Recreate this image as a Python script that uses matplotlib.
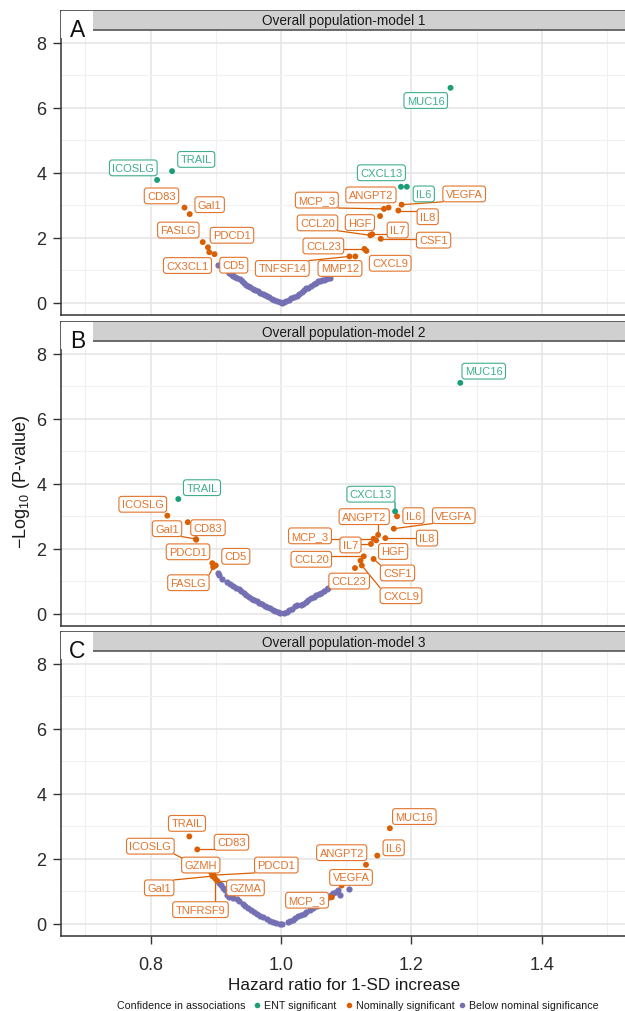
import numpy as np
import matplotlib
matplotlib.use('Agg')
import matplotlib.pyplot as plt
from matplotlib.patches import Rectangle
from matplotlib.lines import Line2D

plt.rcParams['font.family'] = ['Liberation Sans', 'DejaVu Sans']
plt.rcParams['mathtext.fontset'] = 'custom'
plt.rcParams['mathtext.rm'] = 'Liberation Sans'

GREEN = '#1b9e77'
ORANGE = '#d95f02'
PURPLE = '#7570b3'
COLORS = {'ENT': GREEN, 'Nom': ORANGE}
LIGHT = {'ENT': '#3fae8d', 'Nom': '#e2742c'}

# ---------------- model 1 ----------------
a_names = ['MUC16', 'CXCL13', 'IL6', 'TRAIL', 'ICOSLG', 'VEGFA', 'IL8', 'ANGPT2', 'MCP_3',
           'HGF', 'CCL20', 'IL7', 'CSF1', 'CCL23', 'CXCL9', 'TNFSF14', 'MMP12',
           'CD83', 'Gal1', 'FASLG', 'PDCD1', 'CX3CL1', 'CD5']
a_hr = [1.260, 1.184, 1.193, 0.833, 0.810, 1.185, 1.180, 1.165, 1.158,
        1.152, 1.137, 1.140, 1.153, 1.128, 1.131, 1.105, 1.114,
        0.852, 0.860, 0.880, 0.888, 0.890, 0.898]
a_logp = [6.61, 3.57, 3.57, 4.05, 3.78, 3.02, 2.84, 2.93, 2.89,
          2.67, 2.08, 2.11, 1.97, 1.66, 1.60, 1.43, 1.43,
          2.93, 2.73, 1.87, 1.71, 1.56, 1.50]
a_group = ['ENT'] * 5 + ['Nom'] * 18
a_bg_hr = [0.904, 0.921, 0.923, 0.925, 0.927, 0.930, 0.933, 0.937, 0.940, 0.943, 0.947, 0.950,
           0.953, 0.957, 0.960, 0.964, 0.968, 0.972, 0.975, 0.978, 0.982, 0.986, 0.990, 0.994,
           0.998, 1.001, 1.004, 1.008, 1.012, 1.016, 1.020, 1.024, 1.028, 1.032, 1.036, 1.039,
           1.042, 1.046, 1.050, 1.054, 1.057, 1.060, 1.063, 1.066, 1.069, 1.072, 1.075]
a_bg_logp = [1.17, 0.91, 0.88, 0.86, 0.84, 0.80, 0.77, 0.73, 0.68, 0.62, 0.55, 0.51,
             0.48, 0.44, 0.40, 0.36, 0.31, 0.28, 0.25, 0.22, 0.17, 0.12, 0.08, 0.05,
             0.02, 0.01, 0.03, 0.06, 0.10, 0.14, 0.18, 0.22, 0.27, 0.33, 0.40, 0.45,
             0.47, 0.53, 0.58, 0.62, 0.66, 0.68, 0.70, 0.72, 0.74, 0.76, 0.78]

# ---------------- model 2 ----------------
b_names = ['MUC16', 'CXCL13', 'TRAIL', 'IL6', 'VEGFA', 'ANGPT2', 'IL8', 'MCP_3', 'HGF', 'IL7',
           'CCL20', '', 'CSF1', 'CXCL9', 'CCL23', 'ICOSLG', 'CD83', 'Gal1', 'PDCD1',
           'CD5', 'FASLG', '']
b_hr = [1.275, 1.175, 0.8425, 1.178, 1.173, 1.149, 1.160, 1.142, 1.146, 1.138,
        1.127, 1.122, 1.142, 1.124, 1.1135, 0.8257, 0.857, 0.8696, 0.870,
        0.900, 0.896, 0.8947]
b_logp = [7.10, 3.15, 3.53, 3.00, 2.62, 2.43, 2.33, 2.31, 2.26, 2.15,
          1.77, 1.64, 1.69, 1.49, 1.41, 3.02, 2.82, 2.30, 2.28,
          1.49, 1.44, 1.56]
b_group = ['ENT'] * 3 + ['Nom'] * 19
b_bg_hr = [0.903, 0.905, 0.909, 0.917, 0.922, 0.927, 0.931, 0.935, 0.939, 0.943, 0.947, 0.951,
           0.955, 0.959, 0.963, 0.967, 0.971, 0.975, 0.979, 0.983, 0.987, 0.991, 0.995, 0.999,
           1.005, 1.009, 1.013, 1.017, 1.021, 1.025, 1.030, 1.034, 1.038, 1.042, 1.046, 1.050,
           1.054, 1.058, 1.062, 1.066, 1.070, 1.072]
b_bg_logp = [1.26, 1.20, 1.08, 0.98, 0.92, 0.87, 0.81, 0.76, 0.70, 0.63, 0.58, 0.53,
             0.47, 0.44, 0.41, 0.34, 0.30, 0.25, 0.20, 0.17, 0.13, 0.09, 0.05, 0.02,
             0.04, 0.07, 0.11, 0.16, 0.23, 0.26, 0.29, 0.32, 0.37, 0.44, 0.50, 0.53,
             0.57, 0.61, 0.65, 0.70, 0.77, 0.80]

# ---------------- model 3 ----------------
c_names = ['TRAIL', 'CD83', 'ICOSLG', 'GZMH', 'PDCD1', 'Gal1', 'TNFRSF9', 'GZMA',
           'MUC16', 'IL6', 'ANGPT2', 'VEGFA', 'MCP_3']
c_hr = [0.8594, 0.8716, 0.893, 0.896, 0.8965, 0.8947, 0.8988, 0.902,
        1.167, 1.1477, 1.1304, 1.093, 1.078]
c_logp = [2.69, 2.29, 1.58, 1.54, 1.50, 1.47, 1.40, 1.33,
          2.94, 2.10, 1.82, 1.18, 0.82]
c_group = ['Nom'] * 13
c_bg_hr = [0.905, 0.908, 0.911, 0.914, 0.917, 0.921, 0.926, 0.932, 0.936, 0.941, 0.945, 0.950,
           0.954, 0.958, 0.963, 0.968, 0.973, 0.978, 0.983, 0.988, 0.993, 0.998, 1.001,
           1.010, 1.014, 1.018, 1.022, 1.026, 1.031, 1.035, 1.039, 1.044, 1.049, 1.055,
           1.060, 1.064, 1.068, 1.073, 1.077, 1.080, 1.084, 1.088, 1.091, 1.105]
c_bg_logp = [1.25, 1.20, 1.12, 1.05, 0.88, 0.84, 0.81, 0.77, 0.70, 0.62, 0.56, 0.49,
             0.43, 0.36, 0.30, 0.25, 0.21, 0.16, 0.10, 0.06, 0.03, 0.01, 0.00,
             0.07, 0.10, 0.13, 0.19, 0.24, 0.28, 0.32, 0.36, 0.42, 0.48, 0.56,
             0.62, 0.68, 0.72, 0.82, 0.88, 0.95, 0.98, 1.03, 0.89, 1.08]

# label box centres (layout)
a_lab = {'MUC16': (1.222, 6.22), 'CXCL13': (1.154, 4.00), 'IL6': (1.219, 3.35),
         'VEGFA': (1.281, 3.35), 'TRAIL': (0.870, 4.41), 'ICOSLG': (0.7735, 4.15),
         'IL8': (1.225, 2.65), 'ANGPT2': (1.138, 3.32), 'MCP_3': (1.055, 3.16),
         'HGF': (1.121, 2.47), 'CCL20': (1.056, 2.46), 'IL7': (1.179, 2.24),
         'CSF1': (1.234, 1.93), 'CCL23': (1.065, 1.75), 'CXCL9': (1.1675, 1.22),
         'TNFSF14': (1.002, 1.06), 'MMP12': (1.0905, 1.06), 'CD83': (0.8167, 3.29),
         'Gal1': (0.8906, 3.02), 'FASLG': (0.8425, 2.24), 'PDCD1': (0.9248, 2.08),
         'CX3CL1': (0.8566, 1.15), 'CD5': (0.9276, 1.16)}
b_lab = {'MUC16': (1.311, 7.46), 'CXCL13': (1.138, 3.68), 'TRAIL': (0.8788, 3.88),
         'IL6': (1.2032, 3.02), 'VEGFA': (1.265, 3.02), 'ANGPT2': (1.1276, 2.99),
         'IL8': (1.224, 2.33), 'MCP_3': (1.0445, 2.40), 'HGF': (1.172, 1.92),
         'IL7': (1.1066, 2.12), 'CCL20': (1.0465, 1.68), 'CSF1': (1.1787, 1.26),
         'CXCL9': (1.184, 0.56), 'CCL23': (1.1046, 1.01), 'ICOSLG': (0.788, 3.37),
         'CD83': (0.888, 2.65), 'Gal1': (0.8252, 2.62), 'PDCD1': (0.8574, 1.91),
         'CD5': (0.9307, 1.77), 'FASLG': (0.858, 0.96)}
c_lab = {'TRAIL': (0.8558, 3.09), 'CD83': (0.924, 2.51), 'ICOSLG': (0.7996, 2.39),
         'GZMH': (0.877, 1.81), 'PDCD1': (0.9928, 1.81), 'Gal1': (0.8132, 1.11),
         'TNFRSF9': (0.8765, 0.44), 'GZMA': (0.9455, 1.11), 'MUC16': (1.2045, 3.30),
         'IL6': (1.1728, 2.34), 'ANGPT2': (1.0931, 2.19), 'VEGFA': (1.1074, 1.43),
         'MCP_3': (1.040, 0.73)}

fig = plt.figure(figsize=(6.25, 10.12), dpi=100)
L, W, H = 61 / 625, 566 / 625, 304 / 1012
bottoms = [1 - 316 / 1012, 1 - 627 / 1012, 1 - 937 / 1012]

panels = [
    ('A', 'Overall population-model 1', a_names, a_hr, a_logp, a_group, a_bg_hr, a_bg_logp, a_lab),
    ('B', 'Overall population-model 2', b_names, b_hr, b_logp, b_group, b_bg_hr, b_bg_logp, b_lab),
    ('C', 'Overall population-model 3', c_names, c_hr, c_logp, c_group, c_bg_hr, c_bg_logp, c_lab),
]

all_labels = []
for i, (letter, title, names, hr, logp, group, bgx, bgy, lab) in enumerate(panels):
    ax = fig.add_axes([L, bottoms[i], W, H])
    ax.set_xlim(0.6626, 1.5307)
    ax.set_ylim(-0.37, 8.97)
    ax.set_xticks([0.8, 1.0, 1.2, 1.4])
    ax.set_xticks([0.7, 0.9, 1.1, 1.3, 1.5], minor=True)
    ax.set_yticks([0, 2, 4, 6, 8])
    ax.set_yticks([1, 3, 5, 7], minor=True)
    ax.grid(which='major', color='#e4e4e4', lw=1.1, zorder=0)
    ax.grid(which='minor', color='#f0f0f0', lw=0.8, zorder=0)
    ax.set_axisbelow(True)
    for s in ax.spines.values():
        s.set_color('#333333')
        s.set_linewidth(1.1)
    ax.tick_params(which='minor', length=0)
    ax.tick_params(axis='y', which='major', length=5.5, width=1, color='#333333',
                   pad=5, labelsize=13, labelcolor='#2b2b2b')
    if i < 2:
        ax.tick_params(axis='x', which='both', length=0, labelbottom=False)
    else:
        ax.tick_params(axis='x', which='major', length=5.5, width=1, color='#333333',
                       pad=9, labelsize=13, labelcolor='#2b2b2b')

    # strip
    sb = (316 - 31) / 304
    ax.add_patch(Rectangle((0, sb), 1, 1 - sb, transform=ax.transAxes, facecolor='#d0d0d0',
                           edgecolor='none', zorder=7, clip_on=False))
    ax.plot([0, 1], [sb, sb], transform=ax.transAxes, color='#555555', lw=1.2, zorder=7.5,
            clip_on=False)
    ax.text(0.5, (sb + 1) / 2, title, transform=ax.transAxes, ha='center', va='center',
            fontsize=9.8, color='#1a1a1a', zorder=8)
    ax.add_patch(Rectangle((0, (316 - 39) / 304), 32 / 566, 1 - (316 - 39) / 304,
                           transform=ax.transAxes, facecolor='white', edgecolor='none', zorder=9))
    ax.text(16.5 / 566, (316 - 30.5) / 304, letter, transform=ax.transAxes, ha='center',
            va='center', fontsize=16.5, color='#111111', zorder=10)

    # points
    ax.scatter(bgx, bgy, s=20, color=PURPLE, linewidths=0, zorder=3)
    ax.scatter(hr, logp, s=18, c=[COLORS[g] for g in group], linewidths=0, zorder=4)
    for n, x, y, g in zip(names, hr, logp, group):
        if n in lab:
            lx, ly = lab[n]
            t = ax.text(lx, ly, n, ha='center', va='center', fontsize=8, color=LIGHT[g],
                        zorder=6,
                        bbox=dict(boxstyle='round,pad=0.26,rounding_size=0.25', fc='white',
                                  ec=LIGHT[g], lw=0.8))
            all_labels.append((ax, t, x, y, g))

fig.canvas.draw()
renderer = fig.canvas.get_renderer()
for ax, t, x, y, g in all_labels:
    bb = t.get_bbox_patch().get_window_extent(renderer)
    px, py = ax.transData.transform((x, y))
    cx = min(max(px, bb.x0), bb.x1)
    cy = min(max(py, bb.y0), bb.y1)
    if np.hypot(px - cx, py - cy) > 8:
        ex, ey = ax.transData.inverted().transform((cx, cy))
        ax.plot([x, ex], [y, ey], color=COLORS[g], lw=0.9, zorder=5)

fig.text(22 / 625, 1 - 482 / 1012, '\u2212Log$_{10}$ (P-value)', rotation=90, ha='center',
         va='center', fontsize=13, color='#1a1a1a')
fig.text(344 / 625, 1 - 986 / 1012, 'Hazard ratio for 1-SD increase', ha='center',
         va='center', fontsize=12.3, color='#1a1a1a')

ly = 1 - 1006 / 1012
fig.text(117 / 625, ly, 'Confidence in associations', ha='left', va='center', fontsize=7.7,
         color='#1a1a1a')
leg = [(257, GREEN, 'ENT significant'), (349, ORANGE, 'Nominally significant'),
       (462, PURPLE, 'Below nominal significance')]
for mx, col, txt in leg:
    fig.add_artist(Line2D([mx / 625], [ly], transform=fig.transFigure, marker='o', ms=3,
                          color=col, linestyle='none'))
    fig.text((mx + 7) / 625, ly, txt, ha='left', va='center', fontsize=7.7, color='#1a1a1a')

fig.savefig('out.png', dpi=100)
plt.close(fig)
